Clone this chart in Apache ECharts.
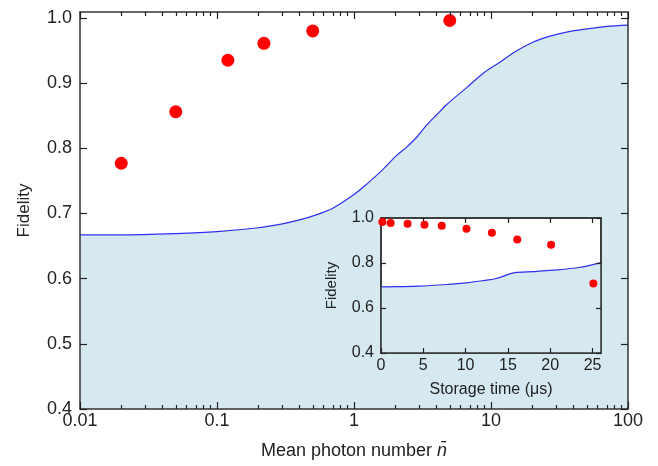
<!DOCTYPE html>
<html>
<head>
<meta charset="utf-8">
<script src="https://cdn.jsdelivr.net/npm/echarts@6/dist/echarts.min.js"></script>
<style>
html, body { margin: 0; padding: 0; background: #fff; }
#c_chart { width: 658px; height: 466px; }
</style>
</head>
<body>
<div id="c_chart"></div>
<script>
// main panel: measured fidelity vs mean photon number
const nMeas = [0.02, 0.05, 0.12, 0.22, 0.5, 5];
const fidMeas = [0.777, 0.856, 0.935, 0.961, 0.980, 0.996];
// classical bound curve
const nBound = [0.01, 0.02, 0.05, 0.1, 0.2, 0.3, 0.4, 0.55, 0.7, 1.0, 1.24, 1.6, 2.05, 2.4, 2.9, 3.4, 4.0, 4.75, 6.65, 9, 11.6, 15, 20.4, 27, 35.6, 50, 70, 100];
const fidBound = [0.667, 0.667, 0.669, 0.672, 0.678, 0.684, 0.690, 0.699, 0.708, 0.729, 0.745, 0.766, 0.789, 0.801, 0.818, 0.836, 0.851, 0.867, 0.893, 0.917, 0.932, 0.948, 0.963, 0.972, 0.978, 0.983, 0.987, 0.989];
const yMajor = [0.4, 0.5, 0.6, 0.7, 0.8, 0.9, 1.0];

// inset: fidelity vs storage time
const tMeas = [0.16, 1.14, 3.14, 5.14, 7.18, 10.1, 13.1, 16.1, 20.1, 25.1];
const fidTime = [0.982, 0.978, 0.974, 0.970, 0.966, 0.952, 0.934, 0.904, 0.881, 0.709];
const tBound = [0, 4.6, 8, 10.1, 12, 13.6, 15.8, 18, 20.3, 23.4, 26];
const fidTBound = [0.694, 0.697, 0.705, 0.712, 0.721, 0.731, 0.757, 0.762, 0.768, 0.780, 0.802];
const insetXTicks = [0, 5, 10, 15, 20, 25];
const insetYTicks = [0.4, 0.6, 0.8, 1.0];

// minor tick positions (2..9 per decade), as exponents for the overlay axis
var xMinorExp = [];
for (var d = -2; d < 2; d++) {
    for (var k = 2; k < 10; k++) xMinorExp.push(d + Math.log10(k));
}

var dm = document.getElementById('c_chart');
var ch = echarts.init(dm);
var font = 'Liberation Sans, Arial, Helvetica, sans-serif';
var ink = '#222';
var fill = '#d6e9f1';
var frame = { show: true, onZero: false, lineStyle: { color: '#333', width: 1.5 } };
var mainBox = { left: 80, right: 30, top: 12, bottom: 57, outerBoundsMode: 'none' };

function tick(len, vals) {
    var t = { show: true, inside: true, length: len, lineStyle: { color: '#222', width: 1.2 } };
    if (vals) t.customValues = vals;
    return t;
}

function logAxis(pos, labels) {
    return {
        type: 'log', logBase: 10, gridIndex: 0, position: pos, z: 5,
        min: 0.01, max: 100, interval: 1,
        axisLine: frame,
        splitLine: { show: false },
        axisTick: tick(7),
        axisLabel: labels ? { show: true, margin: 3, fontSize: 18, color: ink, fontFamily: font,
                               formatter: function (v) { return String(+v.toPrecision(3)); } }
                          : { show: false }
    };
}

function minorAxis(pos) {
    return {
        type: 'value', gridIndex: 2, position: pos, z: 5, min: -2, max: 2,
        axisLine: { show: false }, splitLine: { show: false },
        axisTick: tick(4, xMinorExp),
        axisLabel: { show: false }
    };
}

var mainX = logAxis('bottom', true);
mainX.name = 'Mean photon number {i|n\u0304}';
mainX.nameLocation = 'middle';
mainX.nameGap = 33;
mainX.nameTextStyle = { fontSize: 18, color: ink, fontFamily: font,
    rich: { i: { fontSize: 18, fontStyle: 'italic', color: ink, fontFamily: font } } };

var option = {
    animation: false,
    grid: [
        Object.assign({ show: false }, mainBox),
        { left: 381, right: 57, top: 218, bottom: 113, show: true, borderColor: '#333',
          borderWidth: 1.5, backgroundColor: '#fff', z: 10, outerBoundsMode: 'none' },
        Object.assign({ show: false }, mainBox)   // overlay grid carrying the minor ticks
    ],
    xAxis: [
        mainX,
        logAxis('top', false),
        {
            type: 'value', gridIndex: 1, position: 'bottom', min: 0, max: 26, interval: 5, z: 12,
            axisLine: frame, splitLine: { show: false },
            axisTick: tick(5, insetXTicks),
            axisLabel: { margin: 5, fontSize: 16, color: ink, fontFamily: font, showMaxLabel: false },
            name: 'Storage time (\u03bcs)', nameLocation: 'middle', nameGap: 29,
            nameTextStyle: { fontSize: 16, color: ink, fontFamily: font }
        },
        {
            type: 'value', gridIndex: 1, position: 'top', min: 0, max: 26, interval: 5, z: 12,
            axisLine: frame, splitLine: { show: false },
            axisTick: tick(5, insetXTicks),
            axisLabel: { show: false }
        },
        minorAxis('bottom'),
        minorAxis('top')
    ],
    yAxis: [
        {
            type: 'value', gridIndex: 0, position: 'left', min: 0.4, max: 1.009, z: 5,
            axisLine: frame, splitLine: { show: false },
            axisTick: tick(7, yMajor),
            axisLabel: { margin: 8, fontSize: 18, color: ink, fontFamily: font, customValues: yMajor,
                         formatter: function (v) { return v.toFixed(1); } },
            name: 'Fidelity', nameLocation: 'middle', nameGap: 47,
            nameTextStyle: { fontSize: 17, color: ink, fontFamily: font }
        },
        {
            type: 'value', gridIndex: 0, position: 'right', min: 0.4, max: 1.009, z: 5,
            axisLine: frame, splitLine: { show: false },
            axisTick: tick(7, yMajor),
            axisLabel: { show: false }
        },
        {
            type: 'value', gridIndex: 1, position: 'left', min: 0.4, max: 1.0, z: 12,
            axisLine: frame, splitLine: { show: false },
            axisTick: tick(5, insetYTicks),
            axisLabel: { margin: 7, fontSize: 16, color: ink, fontFamily: font, customValues: insetYTicks,
                         formatter: function (v) { return v.toFixed(1); } },
            name: 'Fidelity', nameLocation: 'middle', nameGap: 42,
            nameTextStyle: { fontSize: 15, color: ink, fontFamily: font }
        },
        {
            type: 'value', gridIndex: 1, position: 'right', min: 0.4, max: 1.0, z: 12,
            axisLine: frame, splitLine: { show: false },
            axisTick: tick(5, insetYTicks),
            axisLabel: { show: false }
        },
        { type: 'value', gridIndex: 2, min: 0.4, max: 1.009, show: false }
    ],
    series: [
        {
            type: 'line', xAxisIndex: 0, yAxisIndex: 0, z: 2,
            data: nBound.map(function (n, i) { return [n, fidBound[i]]; }),
            showSymbol: false, smooth: 0.3,
            lineStyle: { color: '#2f2ff0', width: 1.2 },
            areaStyle: { color: fill, opacity: 1, origin: 'start' }
        },
        {
            type: 'scatter', xAxisIndex: 0, yAxisIndex: 0, z: 3,
            data: nMeas.map(function (n, i) { return [n, fidMeas[i]]; }),
            symbolSize: 13, itemStyle: { color: '#ff0000', opacity: 1 }
        },
        {
            type: 'line', xAxisIndex: 2, yAxisIndex: 2, z: 11,
            data: tBound.map(function (t, i) { return [t, fidTBound[i]]; }),
            showSymbol: false, smooth: 0.3,
            lineStyle: { color: '#2f2ff0', width: 1.2 },
            areaStyle: { color: fill, opacity: 1, origin: 'start' }
        },
        {
            type: 'scatter', xAxisIndex: 2, yAxisIndex: 2, z: 12,
            data: tMeas.map(function (t, i) { return [t, fidTime[i]]; }),
            symbolSize: 8, itemStyle: { color: '#ff0000', opacity: 1 }
        }
    ]
};

ch.setOption(option);
window.onresize = function () {
    ch.resize();
};
</script>
</body>
</html>
